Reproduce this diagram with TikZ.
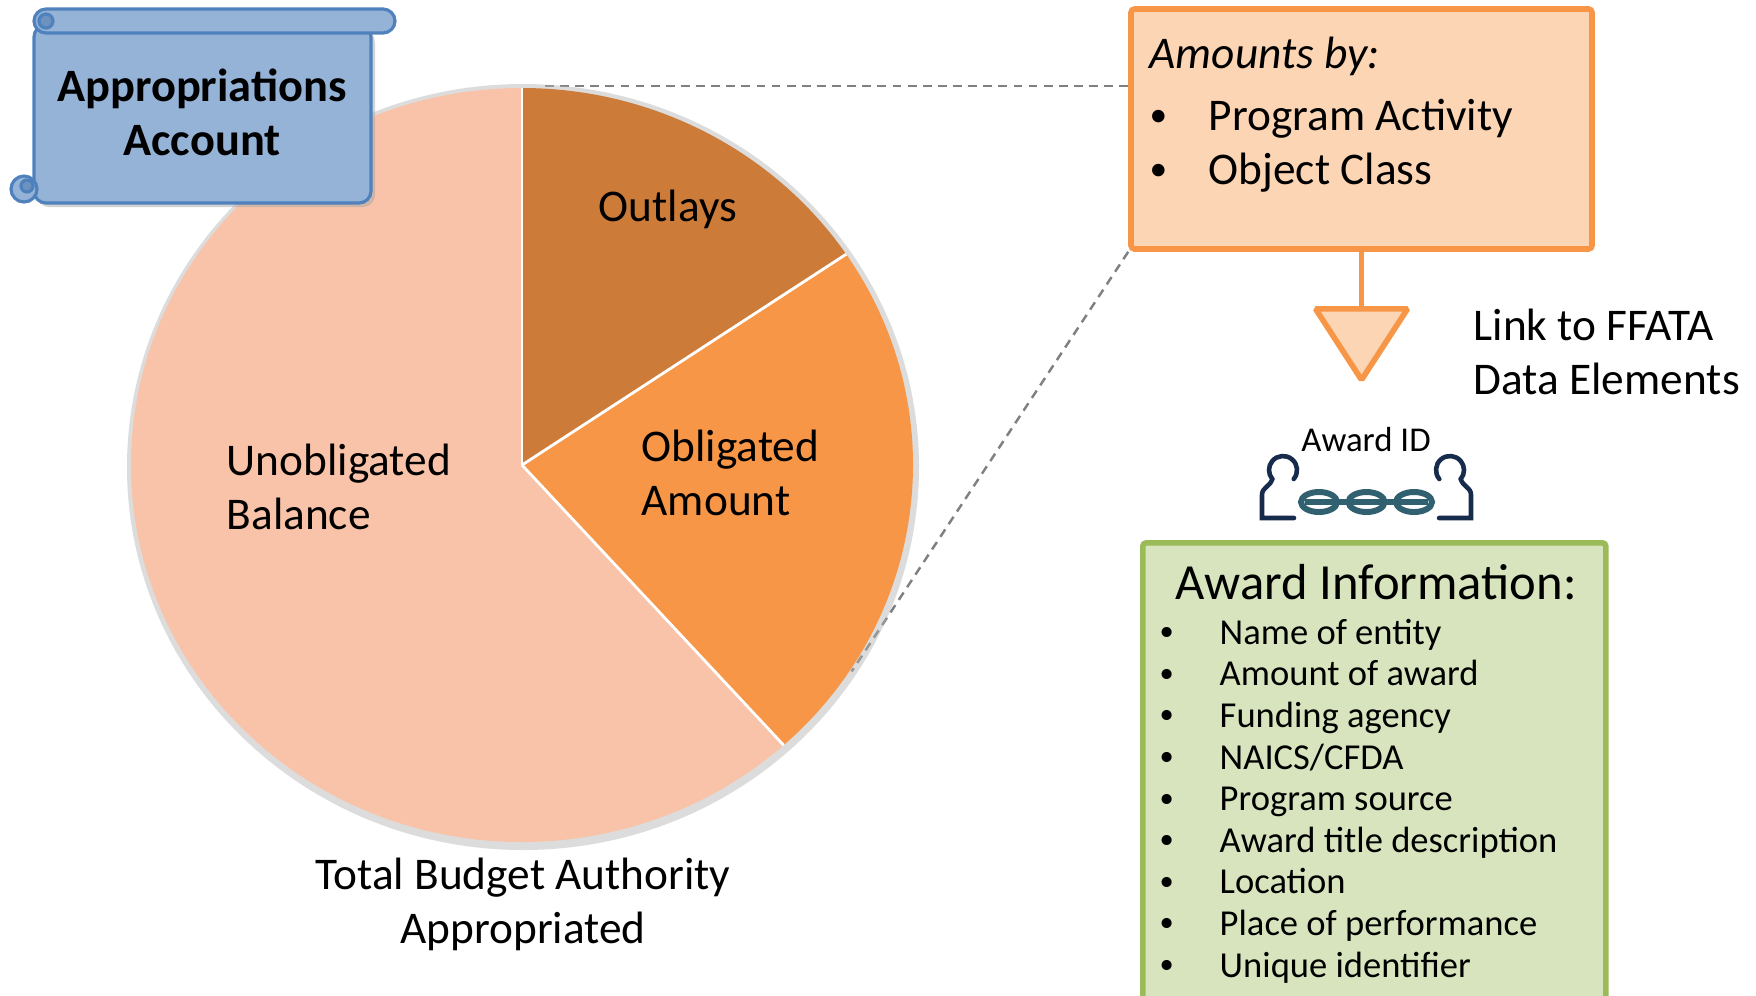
\documentclass[tikz,border=0pt]{standalone}
\usepackage{fontspec}
\setmainfont{Carlito}
\usepackage{graphicx}
\usepackage{tikz}

\definecolor{outlaycol}{RGB}{204,123,57}
\definecolor{obligcol}{RGB}{247,150,70}
\definecolor{unoblcol}{RGB}{248,195,168}
\definecolor{boxfill}{RGB}{252,213,181}
\definecolor{boxline}{RGB}{247,150,70}
\definecolor{greenfill}{RGB}{215,228,189}
\definecolor{greenline}{RGB}{155,187,89}
\definecolor{scrollfill}{RGB}{149,179,215}
\definecolor{scrollline}{RGB}{79,129,189}
\definecolor{scrolldark}{RGB}{110,146,192}
\definecolor{dashgray}{RGB}{128,128,128}
\definecolor{iconnavy}{RGB}{23,43,77}
\definecolor{iconteal}{RGB}{49,96,112}

\newcommand{\listdot}[1]{\makebox[#1][l]{\raisebox{0.1em}{\scalebox{0.78}{\textbullet}}}}

\begin{document}
\begin{tikzpicture}[
  every node/.style = {font=\fontsize{12.9}{15.4}\selectfont, inner sep=0pt},
  slicesep/.style = {draw=white, line width=0.8pt},
  piedash/.style = {draw=dashgray, dash pattern=on 2.5pt off 1.8pt, line width=0.7pt},
  orangebox/.style = {draw=boxline, fill=boxfill, line width=1.6pt, rounded corners=1pt},
  greenbox/.style = {draw=greenline, fill=greenfill, line width=1.6pt, rounded corners=1pt},
  scrollpart/.style = {draw=scrollline, fill=scrollfill, line width=0.9pt},
  personline/.style = {draw=iconnavy, line width=1.3pt, line cap=round},
  chainline/.style = {draw=iconteal, line width=1.7pt}
]
  \useasboundingbox (0,0) rectangle (17.56,-9.95);

  \node[orangebox, minimum width=4.61cm, minimum height=2.40cm] (amounts) at (13.615,-1.29) {};
  \node[anchor=west, align=left] (amountslist) at (11.49,-1.15)
    {\textit{Amounts by:}\\[0.08cm]
     \listdot{0.59cm}Program Activity\\
     \listdot{0.59cm}Object Class};

  \coordinate (piec) at (5.22,-4.65);
  \coordinate (pietop) at (5.45,-0.86);
  \path (piec) ++(-33:3.93 and 3.79) coordinate (pieedge);
  \draw[piedash] (pietop) -- (pietop -| amounts.west);
  \draw[piedash] (amounts.south west) -- (pieedge);

  \fill[black!30, opacity=0.45] ([shift={(0.01,-0.02)}]piec) ellipse [x radius=3.96, y radius=3.83];
  \fill[unoblcol] (piec) -- ++(90:3.91 and 3.77) arc[start angle=90, end angle=312, x radius=3.91, y radius=3.77] -- cycle;
  \fill[obligcol] (piec) -- ++(-48:3.91 and 3.77) arc[start angle=-48, end angle=34, x radius=3.91, y radius=3.77] -- cycle;
  \fill[outlaycol] (piec) -- ++(34:3.91 and 3.77) arc[start angle=34, end angle=90, x radius=3.91, y radius=3.77] -- cycle;
  \draw[slicesep] (piec) -- ++(90:3.91 and 3.77);
  \draw[slicesep] (piec) -- ++(34:3.91 and 3.77);
  \draw[slicesep] (piec) -- ++(-48:3.91 and 3.77);

  \node (outlays) at (6.68,-2.09) {Outlays};
  \node[anchor=west, align=left] (obligated) at (6.41,-4.73) {Obligated\\Amount};
  \node[anchor=west, align=left] (unobligated) at (2.26,-4.87) {Unobligated\\Balance};
  \node[align=center] (total) at (5.23,-9.04) {Total Budget Authority\\Appropriated};

  \fill[black!35, opacity=0.5, rounded corners=0.12cm] (0.37,-0.30) rectangle (3.75,-2.07);
  \filldraw[scrollpart, rounded corners=0.12cm] (0.34,-0.25) rectangle (3.71,-2.03);
  \filldraw[scrollpart, rounded corners=0.12cm] (0.34,-0.09) rectangle (3.95,-0.33);
  \filldraw[scrollpart, fill=scrolldark] (0.46,-0.21) circle (0.07);
  \filldraw[scrollpart] (0.24,-1.89) circle (0.13);
  \filldraw[scrollpart, fill=scrolldark] (0.27,-1.86) circle (0.06);
  \node[font=\fontsize{13.2}{15.4}\selectfont\bfseries, align=center] (account) at (2.02,-1.12) {Appropriations\\Account};

  \draw[boxline, line width=1.6pt] (amounts.south) -- ++(0,-0.57) coordinate (tribase);
  \filldraw[orangebox, rounded corners=0.5pt] ([xshift=-0.46cm]tribase) -- ([xshift=0.46cm]tribase) -- ([yshift=-0.71cm]tribase) -- cycle;
  \node[anchor=west, align=left] (ffata) at (14.73,-3.52) {Link to FFATA\\Data Elements};

  \node[font=\fontsize{9.9}{12}\selectfont] (awardid) at (13.66,-4.40) {Award ID};
  \draw[personline] (12.83,-4.70) ++(-40:0.14) arc[start angle=-40, end angle=220, radius=0.14]
    .. controls (12.70,-4.87) and (12.62,-4.87) .. (12.62,-4.95) -- (12.62,-5.18) -- (12.94,-5.18);
  \draw[personline] (14.50,-4.70) ++(220:0.14) arc[start angle=220, end angle=-40, radius=0.14]
    .. controls (14.63,-4.87) and (14.71,-4.87) .. (14.71,-4.95) -- (14.71,-5.18) -- (14.39,-5.18);
  \draw[chainline] (13.05,-5.02) -- (14.28,-5.02);
  \draw[chainline] (13.19,-5.02) ellipse [x radius=0.18, y radius=0.10];
  \draw[chainline] (13.665,-5.02) ellipse [x radius=0.18, y radius=0.10];
  \draw[chainline] (14.14,-5.02) ellipse [x radius=0.18, y radius=0.10];

  \node[greenbox, minimum width=4.63cm, minimum height=4.80cm, anchor=north west] (awardbox) at (11.40,-5.40) {};
  \node[font=\fontsize{14.4}{17}\selectfont] (awardtitle) at (13.76,-5.82) {Award Information:};
  \node[anchor=west, align=left, font=\fontsize{10.4}{11.84}\selectfont] (awardlist) at (11.59,-8.01)
    {\listdot{0.60cm}Name of entity\\
     \listdot{0.60cm}Amount of award\\
     \listdot{0.60cm}Funding agency\\
     \listdot{0.60cm}NAICS/CFDA\\
     \listdot{0.60cm}Program source\\
     \listdot{0.60cm}Award title description\\
     \listdot{0.60cm}Location\\
     \listdot{0.60cm}Place of performance\\
     \listdot{0.60cm}Unique identifier};
\end{tikzpicture}
\end{document}
